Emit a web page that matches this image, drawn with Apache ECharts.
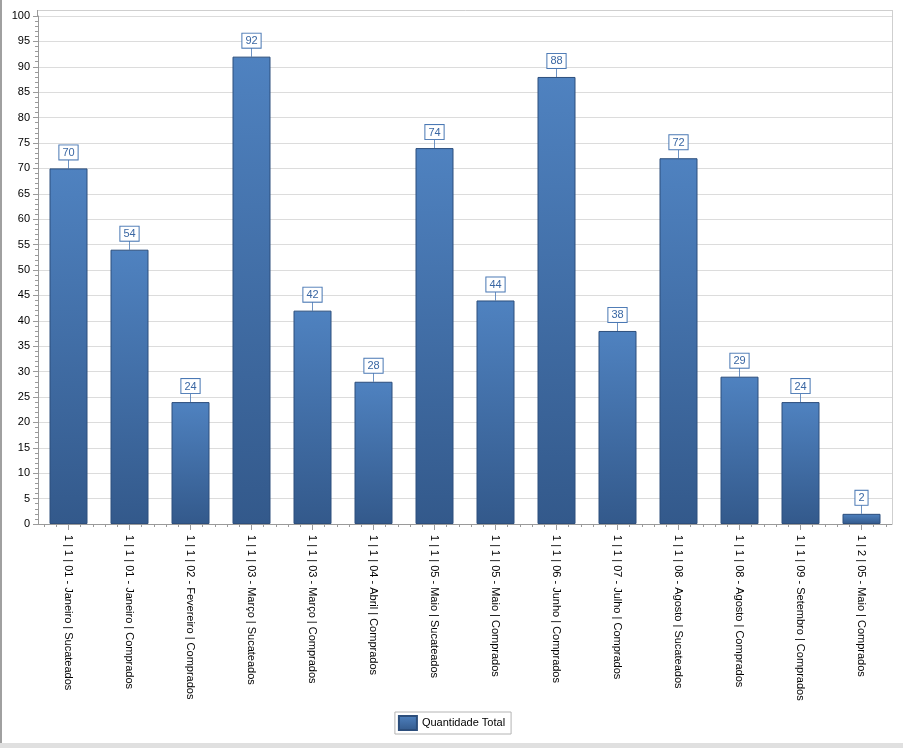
<!DOCTYPE html>
<html>
<head>
<meta charset="utf-8">
<script src="https://cdn.jsdelivr.net/npm/echarts@6/dist/echarts.min.js"></script>
<style>
  html, body { margin: 0; padding: 0; background: #fff; }
  #wrap { position: relative; width: 903px; height: 748px; overflow: hidden; }
  #chart { position: absolute; left: 0; top: 0; width: 903px; height: 748px; }
  #lb { position: absolute; left: 0; top: 0; width: 2px; height: 743px; background: #a0a0a0; }
  #bb { position: absolute; left: 0; top: 743px; width: 903px; height: 5px; background: #e0e0e0; }
</style>
</head>
<body>
<div id="wrap"><div id="chart"></div><div id="lb"></div><div id="bb"></div></div>
<script>
const categories = [
  "1 | 1 | 01 - Janeiro | Sucateados",
  "1 | 1 | 01 - Janeiro | Comprados",
  "1 | 1 | 02 - Fevereiro | Comprados",
  "1 | 1 | 03 - Março | Sucateados",
  "1 | 1 | 03 - Março | Comprados",
  "1 | 1 | 04 - Abril | Comprados",
  "1 | 1 | 05 - Maio | Sucateados",
  "1 | 1 | 05 - Maio | Comprados",
  "1 | 1 | 06 - Junho | Comprados",
  "1 | 1 | 07 - Julho | Comprados",
  "1 | 1 | 08 - Agosto | Sucateados",
  "1 | 1 | 08 - Agosto | Comprados",
  "1 | 1 | 09 - Setembro | Comprados",
  "1 | 2 | 05 - Maio | Comprados"
];
const quantidadeTotal = [70, 54, 24, 92, 42, 28, 74, 44, 88, 38, 72, 29, 24, 2];
const seriesName = "Quantidade Total";
const yMin = 0, yMax = 100, yInterval = 5;

const G = { left: 38, right: 11, top: 16, bottom: 224 };
const W = 903, H = 748;
const FONT = '"Liberation Sans", Arial, sans-serif';

const subTicks = [];
categories.forEach(() => { for (let k = 0; k < 5; k++) subTicks.push(''); });

const chart = echarts.init(document.getElementById('chart'), null, { renderer: 'canvas' });
const barGrad = new echarts.graphic.LinearGradient(0, 0, 0, 1, [
  { offset: 0, color: '#4f82c0' },
  { offset: 1, color: '#33598b' }
]);
chart.setOption({
  animation: false,
  backgroundColor: '#fff',
  textStyle: { fontFamily: FONT },
  grid: { left: G.left, right: G.right, top: G.top, bottom: G.bottom, containLabel: false },
  graphic: [
    { type: 'line', silent: true, z: 0,
      shape: { x1: G.left, y1: 10.5, x2: W - G.right + 0.5, y2: 10.5 },
      style: { stroke: '#cfcfcf', lineWidth: 1 } },
    { type: 'line', silent: true, z: 0,
      shape: { x1: W - G.right + 0.5, y1: 10, x2: W - G.right + 0.5, y2: H - G.bottom },
      style: { stroke: '#cfcfcf', lineWidth: 1 } },
    { type: 'line', silent: true, z: 10,
      shape: { x1: G.left - 0.5, y1: 10, x2: G.left - 0.5, y2: G.top },
      style: { stroke: '#9a9a9a', lineWidth: 1 } }
  ],
  legend: {
    data: [seriesName],
    left: 'center',
    top: 712,
    orient: 'horizontal',
    backgroundColor: '#fff',
    borderColor: '#b4b4b4',
    borderWidth: 1,
    borderRadius: 0,
    padding: [3, 6, 3, 3],
    itemWidth: 18,
    itemHeight: 14,
    itemGap: 5,
    icon: 'rect',
    textStyle: { fontFamily: FONT, fontSize: 11, color: '#000' }
  },
  xAxis: [
    {
      type: 'category',
      data: categories,
      axisLine: { show: true, lineStyle: { color: '#9a9a9a', width: 1 } },
      axisTick: { show: true, alignWithLabel: true, length: 6, lineStyle: { color: '#9a9a9a' } },
      axisLabel: { rotate: -90, margin: 11, color: '#000', fontSize: 11, fontFamily: FONT, interval: 0 },
      splitLine: { show: false }
    },
    {
      type: 'category',
      data: subTicks,
      position: 'bottom',
      axisLine: { show: false },
      axisTick: { show: true, alignWithLabel: true, interval: 0, length: 3, lineStyle: { color: '#9a9a9a' } },
      axisLabel: { show: false },
      splitLine: { show: false }
    }
  ],
  yAxis: {
    type: 'value',
    min: yMin,
    max: yMax,
    interval: yInterval,
    axisLine: { show: true, lineStyle: { color: '#9a9a9a', width: 1 } },
    axisTick: { show: true, length: 5, lineStyle: { color: '#9a9a9a' } },
    minorTick: { show: true, splitNumber: 5, length: 3, lineStyle: { color: '#9a9a9a' } },
    axisLabel: { color: '#000', fontSize: 11, fontFamily: FONT, margin: 8 },
    splitLine: { show: true, lineStyle: { color: '#dcdcdc', width: 1 } }
  },
  series: [
    {
      name: seriesName,
      type: 'bar',
      data: quantidadeTotal,
      barWidth: 38,
      itemStyle: { color: barGrad, borderColor: '#2c4e7c', borderWidth: 1 },
      label: {
        show: true,
        position: 'top',
        distance: 9,
        color: '#3a67a3',
        fontSize: 11,
        fontFamily: FONT,
        backgroundColor: '#fff',
        borderColor: '#4a78b4',
        borderWidth: 1,
        padding: [2, 3, 1, 3],
        lineHeight: 11
      },
      z: 3
    },
    {
      name: 'connector',
      type: 'scatter',
      data: quantidadeTotal,
      symbol: 'rect',
      symbolSize: [1, 9],
      symbolOffset: [0, '-50%'],
      itemStyle: { color: '#4a78b4' },
      silent: true,
      z: 2
    }
  ]
});
</script>
</body>
</html>
